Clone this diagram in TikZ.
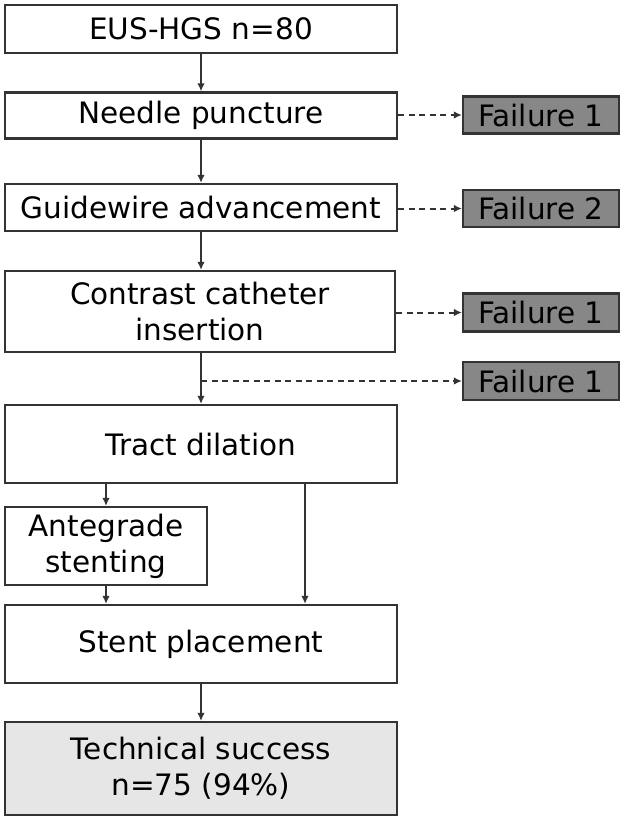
\documentclass[tikz,border=0pt]{standalone}
\usepackage{fontspec}
\setmainfont{DejaVu Sans}
\usetikzlibrary{arrows.meta}
\definecolor{linegray}{HTML}{333333}
\definecolor{failfill}{HTML}{878787}
\definecolor{successfill}{HTML}{E6E6E6}
\begin{document}
\begin{tikzpicture}[x=1pt,y=-1pt,
  every node/.style={font=\fontsize{29.5}{36}\selectfont, align=center, inner sep=0pt},
  stagebox/.style={draw=linegray, line width=2.2pt, fill=white, minimum width=#1, text=black},
  stagebox/.default=392pt,
  failbox/.style={draw=linegray, line width=2.2pt, fill=failfill, minimum width=156pt, minimum height=37pt},
  flow/.style={draw=linegray, line width=2pt, -{Latex[length=8pt,width=7.5pt]}},
  dashflow/.style={flow, dash pattern=on 6pt off 4.5pt}]
\useasboundingbox (0,0) rectangle (625,820);

% main sequence of steps
\node[stagebox, minimum height=48pt] (start) at (201,29) {EUS-HGS n=80};
\node[stagebox, minimum height=46pt] (needle) at (201,115.5) {Needle puncture};
\node[stagebox, minimum height=47pt] (wire) at (201,207.5) {Guidewire advancement};
\node[stagebox=390pt, minimum height=81pt] (contrast) at (200,311.5) {Contrast catheter\\insertion};
\node[stagebox, minimum height=78pt] (tract) at (201,444) {Tract dilation};
\node[stagebox=202pt, minimum height=78pt] (ante) at (106,546) {Antegrade\\stenting};
\node[stagebox, minimum height=78pt] (stent) at (201,644) {Stent placement};
\node[stagebox, fill=successfill, minimum height=93pt] (success) at (201,768.5) {Technical success\\n=75 (94\%)};

% failures branching off to the right
\node[failbox] (f1) at (541,115) {Failure 1};
\node[failbox] (f2) at (541,208.5) {Failure 2};
\node[failbox, minimum height=38pt] (f3) at (541,312.5) {Failure 1};
\node[failbox, minimum height=38pt] (f4) at (541,381) {Failure 1};

% solid connectors
\draw[flow] (start.south) -- (needle.north);
\draw[flow] (needle.south) -- (wire.north);
\draw[flow] (wire.south) -- (wire.south |- contrast.north);
\draw[flow] (contrast.south -| tract.north) -- (tract.north);
\draw[flow] (ante.north |- tract.south) -- (ante.north);
\draw[flow] (ante.south) -- (ante.south |- stent.north);
\coordinate (bypass) at (305,482);
\draw[flow] (bypass) -- (bypass |- stent.north);
\draw[flow] (stent.south) -- (success.north);

% dashed connectors to failures
\draw[dashflow] (needle.east |- f1.west) -- (f1.west);
\draw[dashflow] (wire.east |- f2.west) -- (f2.west);
\draw[dashflow] (contrast.east |- f3.west) -- (f3.west);
\coordinate (split) at (201,381);
\draw[dashflow] (split) -- (f4.west);
\end{tikzpicture}
\end{document}
